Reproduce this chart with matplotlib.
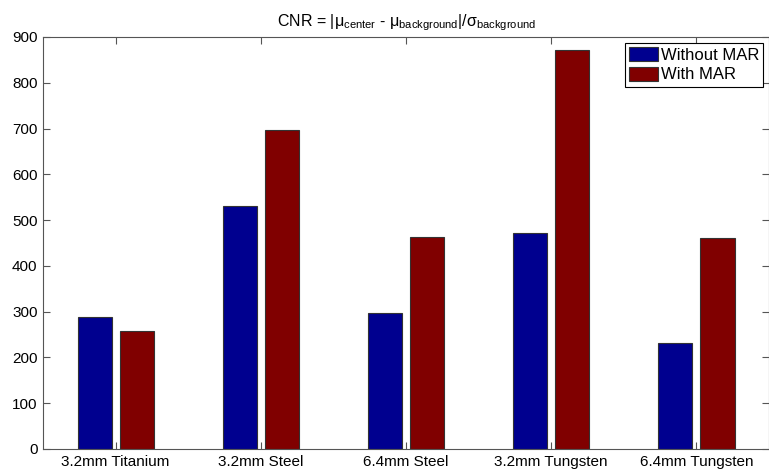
import matplotlib
matplotlib.use("Agg")
import matplotlib.pyplot as plt
import numpy as np

plt.rcParams['font.family'] = ['Liberation Sans', 'DejaVu Sans']
plt.rcParams['mathtext.default'] = 'regular'

categories = ['3.2mm Titanium', '3.2mm Steel', '6.4mm Steel', '3.2mm Tungsten', '6.4mm Tungsten']
without_mar = [289, 530, 298, 472, 231]
with_mar = [257, 696, 462, 872, 460]

x = np.arange(1, len(categories) + 1)
width = 0.235
offset = 0.145

fig = plt.figure(figsize=(7.69, 4.70), dpi=100)
ax = fig.add_axes([0.056, 0.0447, 0.944, 0.8766])

ax.bar(x - offset, without_mar, width, color='#00008f', edgecolor='#333333', linewidth=0.8, label='Without MAR')
ax.bar(x + offset, with_mar, width, color='#800000', edgecolor='#333333', linewidth=0.8, label='With MAR')

ax.set_xlim(0.5, 5.5)
ax.set_ylim(0, 900)
ax.set_xticks(x)
ax.set_xticklabels(categories, fontsize=11)
ax.set_yticks(np.arange(0, 901, 100))
ax.tick_params(axis='y', labelsize=11)
ax.tick_params(direction='in', top=True, right=True, length=5, color='#555555', pad=4)
for s in ax.spines.values():
    s.set_color('#555555')

ax.set_title(r'CNR = |$\mu_{center}$ - $\mu_{background}$|/$\sigma_{background}$', fontsize=11.5, pad=8)

leg = ax.legend(loc='upper right', fancybox=False, framealpha=1, edgecolor='black',
                fontsize=12, handlelength=1.75, handleheight=0.95, handletextpad=0.15,
                borderpad=0.25, labelspacing=0.22, borderaxespad=0.35)
leg.get_frame().set_linewidth(0.8)

fig.savefig('out.png', dpi=100)
